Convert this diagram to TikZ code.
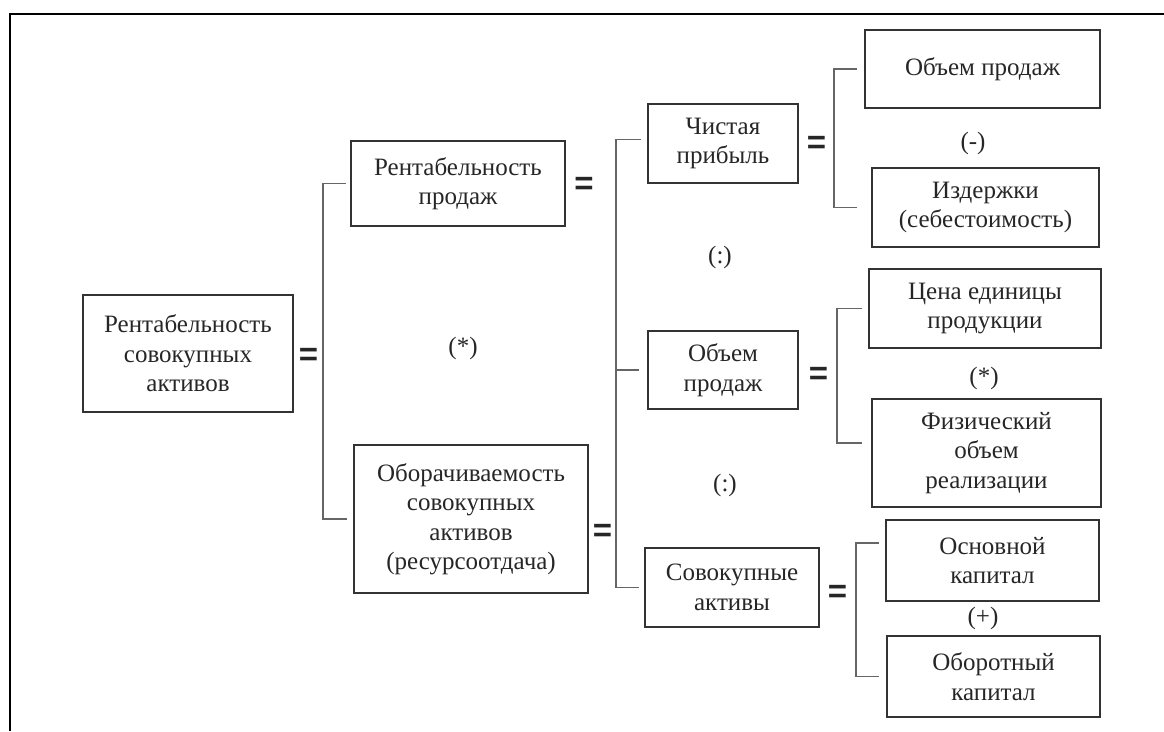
\documentclass[tikz,border=0pt]{standalone}
\usepackage{fontspec}
\setmainfont{Liberation Serif}
\newfontfamily\eqfont{Liberation Sans}
\begin{document}
\begin{tikzpicture}[x=1pt,y=-1pt,
  box/.style={draw=black!80,line width=1.7pt,rectangle,align=center,inner sep=0pt,
    text=black!85,font=\fontsize{25}{29.5}\selectfont},
  br/.style={draw=black!60,line width=1.1pt},
  eq/.style={inner sep=0pt,text=black!85,font=\eqfont\bfseries\fontsize{33}{33}\selectfont},
  op/.style={inner sep=0pt,text=black!85,font=\fontsize{25}{28}\selectfont},
  frame/.style={draw=black,line width=2.8pt}]
\useasboundingbox (0,0) rectangle (1164,731);
\coordinate (fr0) at (10,731);
\coordinate (fr1) at (10,14);
\coordinate (fr2) at (1164,14);
\draw[frame] (fr0) -- (fr1) -- (fr2);

\node[box,minimum width=210,minimum height=117] (A) at (188,353.5) {Рентабельность\\совокупных\\активов};
\node[box,minimum width=214,minimum height=85] (B) at (458,183.5) {Рентабельность\\продаж};
\node[box,minimum width=234,minimum height=148] (I) at (471,519) {Оборачиваемость\\совокупных\\активов\\(ресурсоотдача)};
\node[box,minimum width=150,minimum height=79] (C) at (723,143.5) {Чистая\\прибыль};
\node[box,minimum width=150,minimum height=78] (H) at (723,370) {Объем\\продаж};
\node[box,minimum width=174,minimum height=79] (J) at (732,587.5) {Совокупные\\активы};
\node[box,minimum width=235,minimum height=78] (D) at (982.5,69) {Объем продаж};
\node[box,minimum width=227,minimum height=79] (E) at (985.5,207.5) {Издержки\\(себестоимость)};
\node[box,minimum width=232,minimum height=79] (F) at (985,308.5) {Цена единицы\\продукции};
\node[box,minimum width=229,minimum height=108] (G) at (986.5,453) {Физический\\объем\\реализации};
\node[box,minimum width=213,minimum height=81] (K) at (992.5,560.5) {Основной\\капитал};
\node[box,minimum width=213,minimum height=81] (L) at (993.5,676.5) {Оборотный\\капитал};

\node[eq] (eA) at (308.5,357) {=};
\node[eq] (eB) at (584,186) {=};
\node[eq] (eI) at (602.5,533) {=};
\node[eq] (eC) at (816.5,145) {=};
\node[eq] (eH) at (818.5,376) {=};
\node[eq] (eJ) at (837.5,594) {=};

\node[op] (o1) at (463,348) {(*)};
\node[op] (o2) at (720,257) {(:)};
\node[op] (o3) at (725,485) {(:)};
\node[op] (o4) at (973,143) {(-)};
\node[op] (o5) at (984,378) {(*)};
\node[op] (o6) at (983,618) {(+)};

\coordinate (b1) at (323,0);
\coordinate (b2) at (616,0);
\coordinate (b3) at (834,0);
\coordinate (b4) at (837,0);
\coordinate (b5) at (856,0);

\draw[br] ([xshift=-4]B.west) -| (b1 |- I.west) -- ([xshift=-6]I.west);
\draw[br] ([xshift=-6,yshift=4]C.west) -| (b2 |- J.west) -- ([xshift=-5]J.west);
\draw[br] (b2 |- H.west) -- ([xshift=-8]H.west);
\draw[br] ([xshift=-7]D.west) -| (b3 |- E.west) -- ([xshift=-14]E.west);
\draw[br] ([xshift=-6]F.west) -| ([yshift=10]b4 |- G.west) -- ([xshift=-9,yshift=10]G.west);
\draw[br] ([xshift=-6,yshift=17.5]K.west) -| (b5 |- L.west) -- ([xshift=-7]L.west);
\end{tikzpicture}
\end{document}
